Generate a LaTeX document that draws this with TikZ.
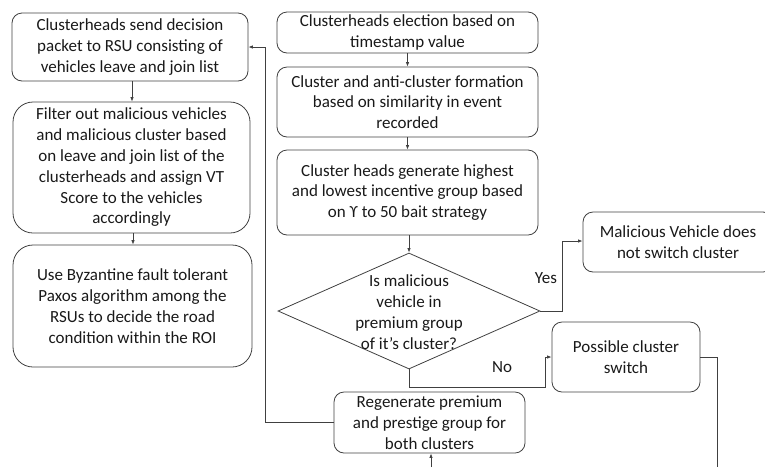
\documentclass[tikz,border=0pt]{standalone}
\usepackage{fontspec}
\setmainfont{Carlito}
\usetikzlibrary{shapes.geometric,arrows.meta}
\begin{document}
\begin{tikzpicture}[x=1pt,y=-1pt,
  every node/.style={font=\fontsize{17}{20.8}\selectfont, text=black!90},
  stepbox/.style={draw=black!75, line width=0.8pt, rounded corners=10pt, align=center, inner sep=0pt},
  bigbox/.style={stepbox, rounded corners=20pt},
  link/.style={draw=black!75, line width=0.8pt},
  arr/.style={link, -{Latex[length=4.5pt,width=3.5pt]}}]
\clip (0,0) rectangle (765,467);
\useasboundingbox (0,0) rectangle (765,467);

% left column
\node[stepbox, minimum width=236, minimum height=68] (send) at (130,47)
  {Clusterheads send decision\\packet to RSU consisting of\\vehicles leave and join list};
\node[bigbox, minimum width=237, minimum height=131] (filter) at (131.5,167.5)
  {Filter out malicious vehicles\\and malicious cluster based\\on leave and join list of the\\clusterheads and assign VT\\Score to the vehicles\\accordingly};
\node[bigbox, minimum width=239, minimum height=122] (paxos) at (132.5,306)
  {Use Byzantine fault tolerant\\Paxos algorithm among the\\RSUs to decide the road\\condition within the ROI};

% middle column
\node[stepbox, minimum width=261, minimum height=41] (elect) at (407.5,32.5)
  {Clusterheads election based on\\timestamp value};
\node[stepbox, minimum width=261, minimum height=70] (form) at (407.5,102)
  {Cluster and anti-cluster formation\\based on similarity in event\\recorded};
\node[stepbox, minimum width=261, minimum height=85] (bait) at (407.5,192.5)
  {Cluster heads generate highest\\and lowest incentive group based\\on \symbol{"03D2} to 50 bait strategy};
\node[diamond, draw=black!75, line width=0.8pt, minimum width=262, minimum height=116, inner sep=0pt] (dec) at (409,311) {};
\node[align=center] (dectext) at (409,312)
  {Is malicious\\vehicle in\\premium group\\of it’s cluster?};
\node[stepbox, minimum width=191, minimum height=61] (regen) at (429.5,422.5)
  {Regenerate premium\\and prestige group for\\both clusters};

% right column
\node[stepbox, minimum width=190, minimum height=60] (stay) at (678,242)
  {Malicious Vehicle does\\not switch cluster};
\node[stepbox, minimum width=148, minimum height=70] (switch) at (626,357)
  {Possible cluster\\switch};

% labels
\node (yes) at (546,278) {Yes};
\node (no) at (502,367) {No};

% connectors
\draw[arr] (send.south -| 132,0) -- (filter.north -| 132,0);
\draw[arr] (filter.south -| 133,0) -- (paxos.north -| 133,0);
\draw[arr] (elect) -- (form);
\draw[arr] (form) -- (bait);
\draw[arr] (bait.south -| dec.north) -- (dec.north);
\draw[arr] (dec.east) -| (562,241) -- (stay.west |- 0,241);
\draw[arr] (dec.south) |- (545,387) |- (switch.west);
\draw[arr] (regen.west) -| (265,47) -- (send.east |- 0,47);
\coordinate (swend) at (717,467);
\draw[link] (switch.east) -| (swend);
\coordinate (regin) at (431,467);
\draw[arr] (regin) -- (regen.south -| regin);
\end{tikzpicture}
\end{document}
